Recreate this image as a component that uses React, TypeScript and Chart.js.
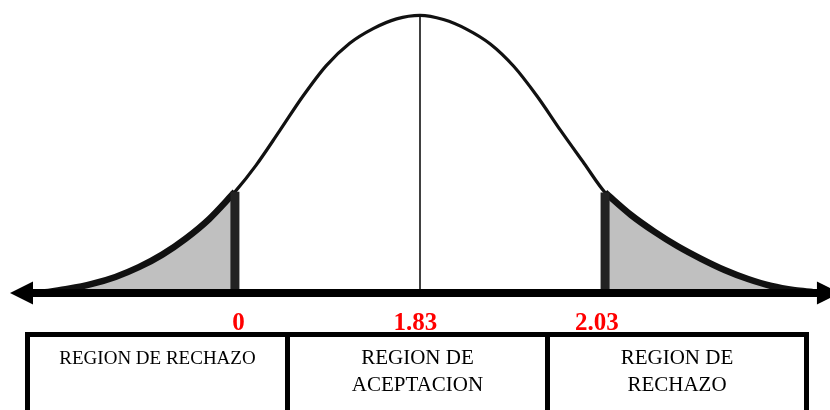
import React, { useEffect, useRef } from "react";
import { Chart, registerables } from "chart.js";

Chart.register(...registerables);

// Curve: standardized position vs. density height
const Z_VALUES = [
  -3.2, -3.0, -2.8, -2.6, -2.4, -2.2, -2.0, -1.8, -1.58, -1.4, -1.2, -1.0, -0.8, -0.6, -0.4, -0.2,
  0, 0.2, 0.4, 0.6, 0.8, 1.0, 1.2, 1.4, 1.58, 1.8, 2.0, 2.2, 2.4, 2.6, 2.8, 3.0, 3.2, 3.35,
];
const DENSITY = [
  0.001, 0.006, 0.013, 0.023, 0.037, 0.055, 0.078, 0.106, 0.145, 0.183, 0.232, 0.282, 0.326, 0.358, 0.379, 0.393,
  0.398, 0.392, 0.378, 0.357, 0.325, 0.282, 0.233, 0.186, 0.144, 0.112, 0.088, 0.067, 0.049, 0.033, 0.02, 0.01, 0.004, 0.0015,
];

const CRIT_LOW = -1.58;
const CRIT_HIGH = 1.58;
const CENTER = 0;

const AXIS_LEFT = -3.5;
const AXIS_RIGHT = 3.585;

const TICK_POS = [-1.55, -0.04, 1.51];
const TICK_LABELS = ["0", "1.83", "2.03"];

const REGION_LINES = [["REGION DE RECHAZO"], ["REGION DE", "ACEPTACION"], ["REGION DE", "RECHAZO"]];

const SERIF = '"Liberation Serif", "Times New Roman", Times, serif';

const axisArrowPlugin = {
  id: "axisArrows",
  afterDatasetsDraw(chart: any) {
    const { ctx, scales } = chart;
    const x = scales.x;
    const y = scales.y;
    const y0 = y.getPixelForValue(0);
    const xl = x.getPixelForValue(AXIS_LEFT);
    const xr = x.getPixelForValue(AXIS_RIGHT);
    const L = 23;
    const H = 11.5;
    ctx.save();
    ctx.fillStyle = "#000";
    ctx.strokeStyle = "#000";
    ctx.lineWidth = 8;
    ctx.beginPath();
    ctx.moveTo(xl + L - 2, y0);
    ctx.lineTo(xr - L + 2, y0);
    ctx.stroke();
    ctx.beginPath();
    ctx.moveTo(xl, y0);
    ctx.lineTo(xl + L, y0 - H);
    ctx.lineTo(xl + L, y0 + H);
    ctx.closePath();
    ctx.fill();
    ctx.beginPath();
    ctx.moveTo(xr, y0);
    ctx.lineTo(xr - L, y0 - H);
    ctx.lineTo(xr - L, y0 + H);
    ctx.closePath();
    ctx.fill();
    ctx.restore();
  },
};

export default function App() {
  const canvasRef = useRef<HTMLCanvasElement | null>(null);

  useEffect(() => {
    if (!canvasRef.current) return;
    const all = Z_VALUES.map((z, i) => ({ x: z, y: DENSITY[i] }));
    const leftTail = all.filter((p) => p.x <= CRIT_LOW);
    const rightTail = all.filter((p) => p.x >= CRIT_HIGH);
    const hLow = DENSITY[Z_VALUES.indexOf(CRIT_LOW)];
    const hHigh = DENSITY[Z_VALUES.indexOf(CRIT_HIGH)];
    const hCenter = DENSITY[Z_VALUES.indexOf(CENTER)];

    const base = {
      pointRadius: 0,
      pointHoverRadius: 0,
      cubicInterpolationMode: "monotone" as const,
    };

    const chart = new Chart(canvasRef.current, {
      type: "line",
      data: {
        datasets: [
          { ...base, data: [{ x: CENTER, y: 0 }, { x: CENTER, y: hCenter }], borderColor: "#111", borderWidth: 1.6, fill: false, order: 0 },
          { ...base, data: [{ x: CRIT_LOW, y: 0 }, { x: CRIT_LOW, y: hLow }], borderColor: "#222", borderWidth: 9, fill: false, order: 1 },
          { ...base, data: [{ x: CRIT_HIGH, y: 0 }, { x: CRIT_HIGH, y: hHigh }], borderColor: "#222", borderWidth: 9, fill: false, order: 1 },
          { ...base, data: leftTail, borderColor: "#111", borderWidth: 6.5, fill: "origin", backgroundColor: "#c0c0c0", order: 2 },
          { ...base, data: rightTail, borderColor: "#111", borderWidth: 6.5, fill: "origin", backgroundColor: "#c0c0c0", order: 2 },
          { ...base, data: all, borderColor: "#111", borderWidth: 3.2, fill: false, order: 3 },
        ],
      },
      options: {
        animation: false,
        responsive: false,
        devicePixelRatio: 1,
        layout: { padding: { left: 10, right: 0, top: 0, bottom: 0 } },
        plugins: { legend: { display: false }, tooltip: { enabled: false }, title: { display: false } },
        events: [],
        scales: {
          x: {
            type: "linear",
            min: -3.5,
            max: 3.5,
            grid: { display: false },
            border: { display: false },
            afterBuildTicks: (axis: any) => {
              axis.ticks = TICK_POS.map((v) => ({ value: v }));
            },
            afterFit: (scale: any) => {
              scale.height = 40;
            },
            ticks: {
              autoSkip: false,
              maxRotation: 0,
              minRotation: 0,
              padding: 8,
              color: "#ff0000",
              font: { family: SERIF, size: 25, weight: "bold" },
              callback: (_v: any, i: number) => TICK_LABELS[i],
            },
          },
          y: { type: "linear", min: 0, max: 0.42, display: false },
        },
      },
      plugins: [axisArrowPlugin],
    } as any);
    return () => chart.destroy();
  }, []);

  const cellBase: React.CSSProperties = {
    boxSizing: "border-box",
    textAlign: "center",
    color: "#000",
    fontFamily: SERIF,
  };

  return (
    <div style={{ position: "absolute", left: 0, top: 0, width: 830, height: 410, overflow: "hidden", background: "#fff" }}>
      <canvas ref={canvasRef} width={830} height={333} style={{ position: "absolute", left: 0, top: 0, width: 830, height: 333 }} />
      <div
        style={{
          position: "absolute",
          left: 25,
          top: 332,
          width: 784,
          height: 110,
          boxSizing: "border-box",
          borderTop: "5px solid #000",
          borderLeft: "5px solid #000",
          borderRight: "5px solid #000",
          display: "flex",
        }}
      >
        <div style={{ ...cellBase, width: 260, borderRight: "5px solid #000", fontSize: 19, lineHeight: "22px", paddingTop: 10 }}>
          {REGION_LINES[0].map((t, i) => (
            <div key={i}>{t}</div>
          ))}
        </div>
        <div style={{ ...cellBase, width: 260, borderRight: "5px solid #000", fontSize: 21, lineHeight: "27px", paddingTop: 7 }}>
          {REGION_LINES[1].map((t, i) => (
            <div key={i}>{t}</div>
          ))}
        </div>
        <div style={{ ...cellBase, flex: 1, fontSize: 21, lineHeight: "27px", paddingTop: 7 }}>
          {REGION_LINES[2].map((t, i) => (
            <div key={i}>{t}</div>
          ))}
        </div>
      </div>
    </div>
  );
}
